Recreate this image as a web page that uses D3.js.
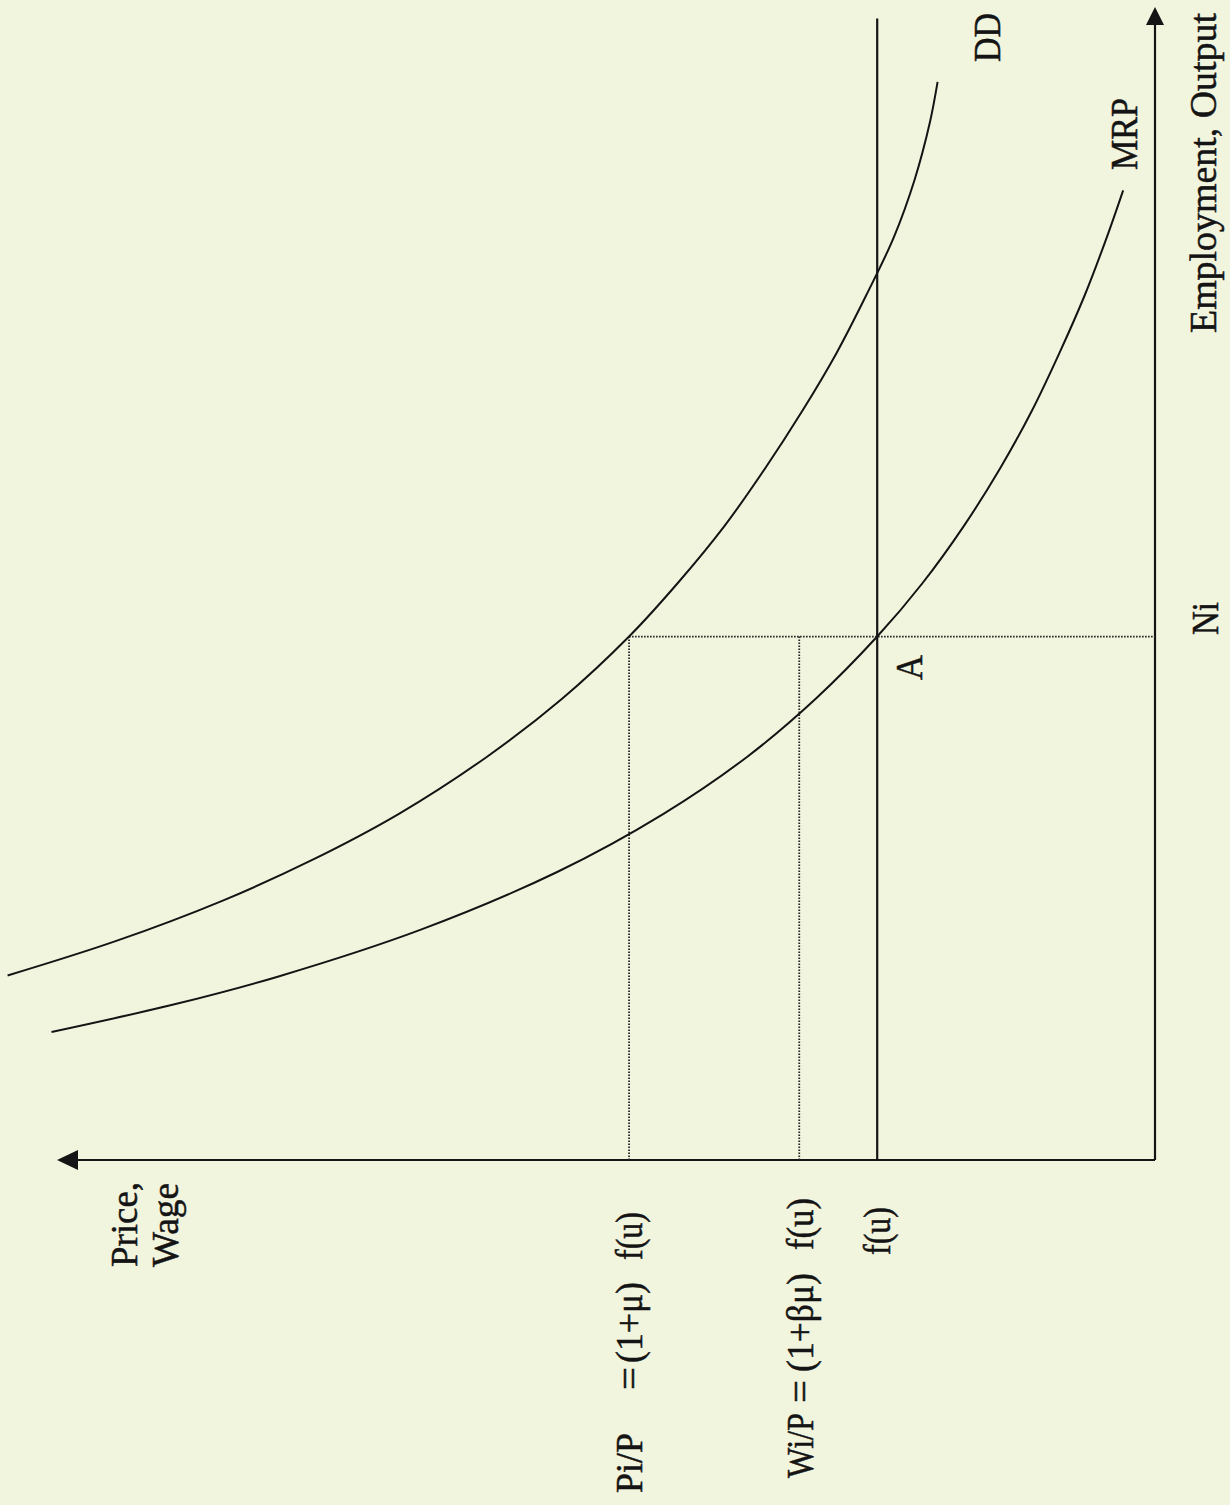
<!DOCTYPE html>
<html>
<head>
<meta charset="utf-8">
<script src="https://cdn.jsdelivr.net/npm/d3@7"></script>
<style>
body { margin: 0; background: #f2f5de; }
text { font-family: "Liberation Serif", "DejaVu Serif", serif; white-space: pre; }
</style>
</head>
<body>
<div class="svg"></div>
<script>
// Curves: employment (x) vs price/wage (y)
var ddEmployment = [16, 19, 22.5, 26, 30, 35, 40, 45.4, 50, 55, 60, 65, 70, 75, 80, 85, 90, 93.5];
var ddPrice = [104.5, 94.6, 84.9, 76.8, 68.9, 60.8, 54.0, 47.9, 43.5, 39.2, 35.5, 32.1, 29.0, 26.3, 23.8, 21.9, 20.5, 19.8];

var mrpEmployment = [11.1, 13.5, 15.9, 20, 25, 30, 35, 40, 45.4, 50, 55, 60, 65, 70, 75, 80, 84.1];
var mrpPrice = [100.5, 89.3, 79.9, 66.8, 54.4, 44.8, 37.1, 30.9, 25.3, 21.2, 17.4, 14.1, 11.2, 8.7, 6.4, 4.4, 2.9];

// Price levels and the employment level Ni
var levelNames = ["Pi/P", "Wi/P", "f(u)"];
var levelValues = [47.9, 32.4, 25.3];
var niEmployment = 45.4;
var fuLineEnd = 99;

// Axis titles and labels
var priceTitle = ["Price,", "Wage"];
var employmentTitle = "Employment, Output";
var curveNames = ["DD", "MRP"];

var width = 1230, height = 1505;
var svgContainer = d3.select(".svg").append("svg").attr("width", width).attr("height", height);
svgContainer.append("rect").attr("width", width).attr("height", height).attr("fill", "#f2f5de");

// The chart is drawn turned a quarter turn: employment runs up the page, price runs to the left
var eScale = d3.scaleLinear().domain([0, 100]).range([1160, 7]);
var pScale = d3.scaleLinear().domain([0, 100]).range([1155, 57]);

var ink = "#141414";

// axes
svgContainer.append("line").attr("x1", pScale(0)).attr("y1", eScale(0)).attr("x2", pScale(100) + 18).attr("y2", eScale(0))
    .attr("stroke", ink).attr("stroke-width", 2.2);
svgContainer.append("path").attr("d", "M" + pScale(100) + "," + eScale(0) + "l21,-10l0,20z").attr("fill", ink);
svgContainer.append("line").attr("x1", pScale(0)).attr("y1", eScale(0)).attr("x2", pScale(0)).attr("y2", eScale(100) + 16)
    .attr("stroke", ink).attr("stroke-width", 2.2);
svgContainer.append("path").attr("d", "M" + pScale(0) + "," + eScale(100) + "l-9,18l18,0z").attr("fill", ink);

// dotted guides
var dotted = function(x1, y1, x2, y2) {
    svgContainer.append("line").attr("x1", x1).attr("y1", y1).attr("x2", x2).attr("y2", y2)
        .attr("stroke", "#222").attr("stroke-width", 1.8).attr("stroke-dasharray", "1.6,1.4");
};
dotted(pScale(levelValues[0]), eScale(0), pScale(levelValues[0]), eScale(niEmployment));
dotted(pScale(levelValues[1]), eScale(0), pScale(levelValues[1]), eScale(niEmployment));
dotted(pScale(levelValues[0]), eScale(niEmployment), pScale(0), eScale(niEmployment));

// f(u) line
svgContainer.append("line").attr("x1", pScale(levelValues[2])).attr("y1", eScale(0)).attr("x2", pScale(levelValues[2])).attr("y2", eScale(fuLineEnd))
    .attr("stroke", ink).attr("stroke-width", 2.2);

// curves
var curveLine = d3.line().x(function(d) { return pScale(d[1]); }).y(function(d) { return eScale(d[0]); }).curve(d3.curveCatmullRom);
svgContainer.append("path").attr("d", curveLine(d3.zip(ddEmployment, ddPrice)))
    .attr("fill", "none").attr("stroke", ink).attr("stroke-width", 2);
svgContainer.append("path").attr("d", curveLine(d3.zip(mrpEmployment, mrpPrice)))
    .attr("fill", "none").attr("stroke", ink).attr("stroke-width", 2);

// rotated text: x is the baseline, y where the text starts, len its length along the page
function label(text, x, y, len) {
    svgContainer.append("text").attr("transform", "translate(" + x + "," + y + ") rotate(-90)")
        .attr("font-size", "37px").attr("fill", ink).attr("stroke", ink).attr("stroke-width", 0.5)
        .attr("textLength", len).attr("lengthAdjust", "spacingAndGlyphs").text(text);
}

label(priceTitle[0], 137, 1267, 85);
label(priceTitle[1], 178, 1267, 84);
label(employmentTitle, 1216, 333, 320);
label(curveNames[0], 1000, 62, 49);
label(curveNames[1], 1137, 170, 72);
label("A", 922, 680, 25);
label("Ni", 1218, 635, 33);

// level labels under the price axis
label(levelNames[0], 642, 1493, 60);
label("=", 642, 1390, 23);
label("(1+\u03bc)", 642, 1363, 81);
label("f(u)", 642, 1260, 48);

label(levelNames[1], 813, 1478, 65);
label("=", 813, 1403, 23);
label("(1+\u03b2\u03bc)", 813, 1372, 99);
label("f(u)", 813, 1250, 52);

label(levelNames[2], 890, 1255, 48);
</script>
</body>
</html>
